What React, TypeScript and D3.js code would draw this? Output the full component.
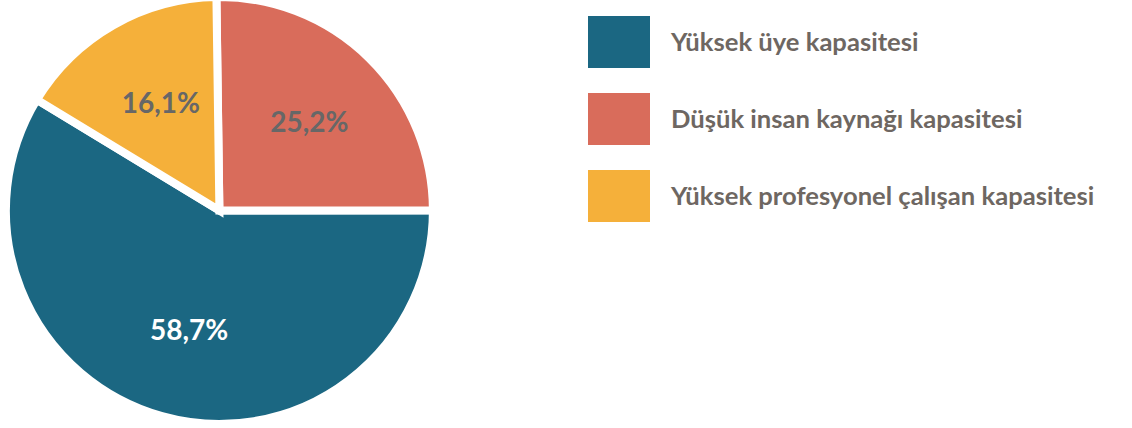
import * as d3 from 'd3'

const categories = ['Yüksek üye kapasitesi', 'Düşük insan kaynağı kapasitesi', 'Yüksek profesyonel çalışan kapasitesi']
const shares = [58.7, 25.2, 16.1]
const shareLabels = ['58,7%', '25,2%', '16,1%']
const colors = ['#1b6782', '#d96c5b', '#f5b03a']
const labelColors = ['#ffffff', '#676767', '#676767']
// clockwise order of the slices, first one starts at 12 o'clock
const sliceOrder = [1, 0, 2]

const width = 1132
const height = 428
const center = { x: 219.4, y: 210.5 }
const radius = 213.5
const labelRadius = 124
const fontFamily = 'Lato, "Open Sans", sans-serif'

export default function App() {
  const start = (-0.8 * Math.PI) / 180
  const pie = d3
    .pie<number>()
    .value((i) => shares[i])
    .sort((a, b) => sliceOrder.indexOf(a) - sliceOrder.indexOf(b))
    .startAngle(start)
    .endAngle(start + Math.PI * 2)

  const arcs = pie(categories.map((_, i) => i))
  const arc = d3.arc<d3.PieArcDatum<number>>().innerRadius(0).outerRadius(radius)
  const labelArc = d3.arc<d3.PieArcDatum<number>>().innerRadius(labelRadius).outerRadius(labelRadius)

  const legend = d3.scaleBand<number>().domain(d3.range(categories.length)).range([16, 16 + 77 * 3])

  return (
    <svg width={width} height={height} style={{ position: 'absolute', left: 0, top: 0 }} fontFamily={fontFamily}>
      <g transform={`translate(${center.x}, ${center.y})`}>
        {arcs.map((d) => (
          <path key={d.data} d={arc(d) ?? ''} fill={colors[d.data]} stroke="#ffffff" strokeWidth={8} strokeLinejoin="miter" />
        ))}
        {arcs.map((d) => {
          const [x, y] = labelArc.centroid(d)
          return (
            <text key={d.data} x={x + 3} y={y} dy="0.36em" textAnchor="middle" fontSize={28} fontWeight={700} fill={labelColors[d.data]}>
              {shareLabels[d.data]}
            </text>
          )
        })}
      </g>

      <g className="legend">
        {categories.map((name, i) => (
          <g key={name} transform={`translate(588, ${legend(i)})`}>
            <rect width={62} height={52} fill={colors[i]} />
            <text x={83} y={35} fontSize={25.6} fontWeight={700} fill="#6e6762">
              {name}
            </text>
          </g>
        ))}
      </g>
    </svg>
  )
}
